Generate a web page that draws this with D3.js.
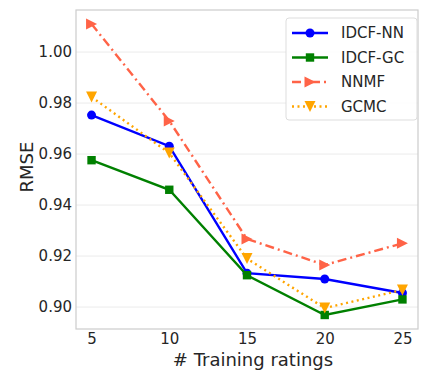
<!DOCTYPE html>
<html>
<head>
<meta charset="utf-8">
<script src="https://cdn.jsdelivr.net/npm/d3@7"></script>
<style>
  body { margin: 0; background: #fff; }
  text { font-family: "DejaVu Sans", sans-serif; fill: #262626; }
</style>
</head>
<body>
<div id="chart"></div>
<script>
// Data
const ratings = [5, 10, 15, 20, 25];
const idcfNN = [0.9753, 0.9631, 0.9133, 0.9110, 0.9055];
const idcfGC = [0.9576, 0.9460, 0.9125, 0.8969, 0.9030];
const nnmf   = [1.0110, 0.9730, 0.9267, 0.9165, 0.9250];
const gcmc   = [0.9824, 0.9604, 0.9190, 0.8996, 0.9067];
const yTicks = [0.90, 0.92, 0.94, 0.96, 0.98, 1.00];
const seriesNames = ["IDCF-NN", "IDCF-GC", "NNMF", "GCMC"];

const W = 421, H = 370;
const margin = { top: 10, right: 3, bottom: 41, left: 76 };
const width = W - margin.left - margin.right,
    height = H - margin.top - margin.bottom;

const svg = d3.select("#chart").append("svg")
    .attr("width", W).attr("height", H);
const g = svg.append("g")
    .attr("transform", `translate(${margin.left},${margin.top})`);

const x = d3.scaleLinear().domain([4, 26]).range([0, width]);
const y = d3.scaleLinear().domain([0.8914, 1.0165]).range([height, 0]);

// grid
g.selectAll(".grid").data(yTicks).enter().append("line")
    .attr("x1", 0).attr("x2", width)
    .attr("y1", d => y(d)).attr("y2", d => y(d))
    .style("stroke", "#ebebeb").style("stroke-width", 1);

// frame
g.append("rect").attr("width", width).attr("height", height)
    .style("fill", "none").style("stroke", "#cccccc").style("stroke-width", 1.2);

// axes
const yAxis = g.append("g")
    .call(d3.axisLeft(y).tickValues(yTicks).tickFormat(d3.format(".2f")).tickSize(0).tickPadding(4));
const xAxis = g.append("g").attr("transform", `translate(0,${height})`)
    .call(d3.axisBottom(x).tickValues(ratings).tickSize(0).tickPadding(4));
[yAxis, xAxis].forEach(a => {
    a.select(".domain").remove();
    a.selectAll("text").style("font-size", "15px").style("fill", "#262626")
        .style("font-family", "DejaVu Sans, sans-serif");
});

// axis titles
svg.append("text")
    .attr("transform", `translate(33,167) rotate(-90)`)
    .attr("text-anchor", "middle")
    .style("font-size", "18px").text("RMSE");
svg.append("text")
    .attr("x", 253).attr("y", 365.5)
    .attr("text-anchor", "middle")
    .style("font-size", "18px").text("# Training ratings");

const series = [
    { name: seriesNames[0], vals: idcfNN, color: "#0000ff", dash: null, marker: "circle" },
    { name: seriesNames[1], vals: idcfGC, color: "#008000", dash: null, marker: "square" },
    { name: seriesNames[2], vals: nnmf, color: "#ff6347", dash: "9,4,2,4", marker: "right" },
    { name: seriesNames[3], vals: gcmc, color: "#ffa500", dash: "2,3.5", marker: "down" }
];

function drawMarker(sel, type, cx, cy, color) {
    if (type === "circle") {
        sel.append("circle").attr("cx", cx).attr("cy", cy).attr("r", 4.5).style("fill", color);
    } else if (type === "square") {
        sel.append("rect").attr("x", cx - 4.2).attr("y", cy - 4.2)
            .attr("width", 8.4).attr("height", 8.4).style("fill", color);
    } else if (type === "right") {
        const s = 5.5;
        sel.append("path")
            .attr("d", `M${cx + s},${cy} L${cx - s},${cy - s} L${cx - s},${cy + s} Z`)
            .style("fill", color);
    } else if (type === "down") {
        const s = 5.5;
        sel.append("path")
            .attr("d", `M${cx},${cy + s} L${cx - s},${cy - s} L${cx + s},${cy - s} Z`)
            .style("fill", color);
    }
}

const line = d3.line().x((d, i) => x(ratings[i])).y(d => y(d));

series.forEach(s => {
    g.append("path").datum(s.vals)
        .attr("d", line)
        .style("fill", "none")
        .style("stroke", s.color)
        .style("stroke-width", 2.4)
        .style("stroke-dasharray", s.dash);
    const mg = g.append("g");
    s.vals.forEach((v, i) => drawMarker(mg, s.marker, x(ratings[i]), y(v), s.color));
});

// legend
const lg = svg.append("g").attr("transform", "translate(286,18)");
lg.append("rect").attr("width", 131).attr("height", 102).attr("rx", 3)
    .style("fill", "#fff").style("fill-opacity", 0.85)
    .style("stroke", "#dddddd").style("stroke-width", 1);
series.forEach((s, i) => {
    const cy = 15 + i * 24.5;
    lg.append("line").attr("x1", 6).attr("x2", 42).attr("y1", cy).attr("y2", cy)
        .style("stroke", s.color).style("stroke-width", 2.4)
        .style("stroke-dasharray", s.dash);
    drawMarker(lg, s.marker, 24, cy, s.color);
    lg.append("text").attr("x", 55).attr("y", cy).attr("dy", "0.36em")
        .style("font-size", "15px").text(s.name);
});
</script>
</body>
</html>
